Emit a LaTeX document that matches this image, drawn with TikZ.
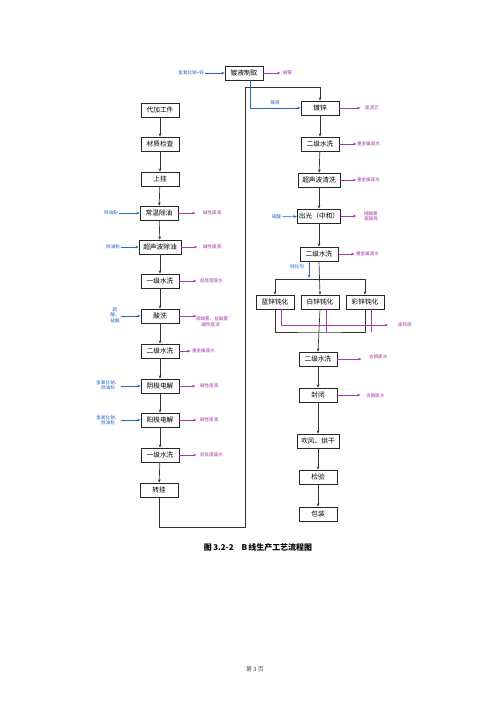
\documentclass[tikz,border=0pt]{standalone}
\usepackage{fontspec}
\setmainfont{Noto Sans CJK SC}
\usetikzlibrary{arrows.meta}

\definecolor{inblue}{RGB}{35,105,195}
\definecolor{outpurple}{RGB}{165,60,165}

\begin{document}
\begin{tikzpicture}[x=0.042cm,y=-0.042cm,
        box/.style={draw=black!85,line width=0.9pt,minimum width=1.6cm,minimum height=0.58cm,inner xsep=5pt,font=\fontsize{8}{9}\selectfont},
        flow/.style={-{Stealth[length=4pt,width=3.2pt]},black!80,line width=0.8pt},
        inflow/.style={-{Stealth[length=4pt,width=3.2pt]},inblue,line width=0.8pt},
        outflow/.style={-{Stealth[length=4pt,width=3.2pt]},outpurple,line width=0.8pt},
        inlab/.style={text=inblue,font=\fontsize{5.5}{6.5}\selectfont,align=center,inner sep=1pt},
        outlab/.style={text=outpurple,font=\fontsize{5.5}{6.5}\selectfont,align=left,anchor=west,inner sep=1pt}]
        \useasboundingbox[fill=white] (0,0) rectangle (500,707);
        % left column
        \node[box] (dai) at (160,110) {代加工件};
        \node[box] (caizhi) at (160,144) {材质检查};
        \node[box] (shanggua) at (160,179) {上挂};
        \node[box] (changwen) at (159,213) {常温除油};
        \node[box] (chaoyou) at (160,247) {超声波除油};
        \node[box] (shui1) at (160,281) {一级水洗};
        \node[box] (suanxi) at (160,316) {酸洗};
        \node[box] (shui2) at (160,351) {二级水洗};
        \node[box] (yinji) at (160,386) {阴极电解};
        \node[box] (yangji) at (160,420) {阳极电解};
        \node[box] (shui3) at (160,455) {一级水洗};
        \node[box] (zhuangua) at (159,490) {转挂};
        % right column
        \node[box] (zhiqu) at (244,73) {镀液制取};
        \node[box] (duxin) at (320,108) {镀锌};
        \node[box] (shui4) at (320,144) {二级水洗};
        \node[box] (chaoqing) at (319,180) {超声波清洗};
        \node[box,inner xsep=2pt] (chuguang) at (319,216) {出光（中和）};
        \node[box] (shui5) at (319,254) {二级水洗};
        \node[box] (lanxin) at (275,302) {蓝锌钝化};
        \node[box] (baixin) at (320,302) {白锌钝化};
        \node[box] (caixin) at (365,302) {彩锌钝化};
        \node[box] (shui6) at (318,359) {二级水洗};
        \node[box] (fengbi) at (318,395) {封闭};
        \node[box] (chuifeng) at (318,441) {吹风、烘干};
        \node[box] (jianyan) at (318,477) {检验};
        \node[box] (baozhuang) at (318,514) {包装};
        % main flow
        \draw[flow] (dai) -- (caizhi);
        \draw[flow] (caizhi) -- (shanggua);
        \draw[flow] (shanggua) -- (changwen);
        \draw[flow] (changwen) -- (chaoyou);
        \draw[flow] (chaoyou) -- (shui1);
        \draw[flow] (shui1) -- (suanxi);
        \draw[flow] (suanxi) -- (shui2);
        \draw[flow] (shui2) -- (yinji);
        \draw[flow] (yinji) -- (yangji);
        \draw[flow] (yangji) -- (shui3);
        \draw[flow] (shui3) -- (zhuangua);
        \coordinate (loopb) at (245,527);
        \coordinate (loopt) at (245,87);
        \draw[flow] (zhuangua.south) |- (loopb) -- (loopt) -| (duxin.north);
        \draw[flow] (duxin) -- (shui4);
        \draw[flow] (shui4) -- (chaoqing);
        \draw[flow] (chaoqing) -- (chuguang);
        \draw[flow] (chuguang) -- (shui5);
        \coordinate (dh) at (319,279);
        \coordinate (db) at (319,332);
        \draw[flow] (shui5.south) -- (baixin.north);
        \draw[flow] (dh) -| (lanxin.north);
        \draw[flow] (dh) -| (caixin.north);
        \draw[black!80,line width=0.8pt] (lanxin.south) |- (db) -| (caixin.south);
        \draw[flow] (baixin.south) -- (shui6.north);
        \draw[flow] (shui6) -- (fengbi);
        \draw[flow] (fengbi) -- (chuifeng);
        \draw[flow] (chuifeng) -- (jianyan);
        \draw[flow] (jianyan) -- (baozhuang);
        % inputs
        \node[inlab,anchor=east] (in0) at (205,73) {氢氧化钠+锌};
        \draw[inflow] (in0) -- (zhiqu);
        \node[inlab] (duye) at (275,103) {镀液};
        \draw[inflow] ([xshift=7pt]zhiqu.south) |- (duxin.west);
        \node[inlab,anchor=east] (in1) at (119,213) {除油粉};
        \draw[inflow] (in1) -- (changwen);
        \node[inlab,anchor=east] (in2) at (121,247) {除油粉};
        \draw[inflow] (in2) -- (chaoyou);
        \node[inlab] (in3) at (115,315) {硫\\酸、\\盐酸};
        \draw[inflow] (in3.east |- suanxi.west) -- (suanxi);
        \node[inlab] (in4) at (108,385) {氢氧化钠、\\除油粉};
        \draw[inflow] (in4.east |- yinji.west) -- (yinji);
        \node[inlab] (in5) at (108,420) {氢氧化钠、\\除油粉};
        \draw[inflow] (in5.east |- yangji.west) -- (yangji);
        \node[inlab,anchor=east] (in6) at (282,217) {硝酸};
        \draw[inflow] (in6) -- (chuguang);
        \node[inlab] (dunhua) at (297,267) {钝化剂};
        \coordinate (dt) at (309,278);
        \draw[inflow] (dt |- shui5.south) -- (dt);
        % outputs
        \node[outlab] (out0) at (282,73) {碱雾};
        \draw[outflow] (zhiqu.east) -- ++(17,0);
        \node[outlab] (out1) at (364,108) {废滤芯};
        \draw[outflow] (duxin.east) -- ++(21,0);
        \node[outlab] (out2) at (202,213) {碱性废液};
        \draw[outflow] (changwen.east) -- ++(17,0);
        \node[outlab] (out3) at (202,247) {碱性废液};
        \draw[outflow] (chaoyou.east) -- ++(16,0);
        \node[outlab] (out4) at (199,281) {前处理废水};
        \draw[outflow] (shui1.east) -- ++(17,0);
        \node[outlab,anchor=north west] (out5) at (195,316) {硫酸雾、盐酸雾\\\hspace*{1.2em}酸性废液};
        \draw[outflow] (suanxi.east) -- ++(17,0);
        \node[outlab] (out6) at (191,351) {重金属废水};
        \draw[outflow] (shui2.east) -- ++(11,0);
        \node[outlab] (out7) at (199,386) {碱性废液};
        \draw[outflow] (yinji.east) -- ++(16,0);
        \node[outlab] (out8) at (199,420) {碱性废液};
        \draw[outflow] (yangji.east) -- ++(17,0);
        \node[outlab] (out9) at (199,455) {前处理废水};
        \draw[outflow] (shui3.east) -- ++(17,0);
        \node[outlab] (out10) at (356,144) {重金属废水};
        \draw[outflow] (shui4.east) -- ++(17,0);
        \node[outlab] (out11) at (356,180) {重金属废水};
        \draw[outflow] (chaoqing.east) -- ++(16,0);
        \node[outlab] (out12) at (363,216) {硝酸雾\\废酸液};
        \draw[outflow] (chuguang.east) -- ++(15,0);
        \node[outlab] (out13) at (355,254) {重金属废水};
        \draw[outflow] (shui5.east) -- ++(16,0);
        \node[outlab] (out14) at (397,325) {废钝液};
        \draw[outflow] ([xshift=8pt]lanxin.south) |- (388,325);
        \draw[outpurple,line width=0.8pt] ([xshift=7pt]baixin.south) -- ++(0,23);
        \draw[outpurple,line width=0.8pt] ([xshift=8pt]caixin.south) -- ++(0,23);
        \node[outlab] (out15) at (368,357) {含铬废水};
        \draw[outflow] (shui6.east) -- ++(24,0);
        \node[outlab] (out16) at (365,396) {含铬废水};
        \draw[outflow] (fengbi.east) -- ++(23,0);
        % caption
        \node[font=\fontsize{9.5}{11}\selectfont\bfseries] (title) at (258,548) {图\,3.2-2\quad B\,线生产工艺流程图};
        \node[font=\fontsize{7}{8}\selectfont,text=black!70] (page) at (255,669) {第\ 3\ 页};
\end{tikzpicture}
\end{document}
